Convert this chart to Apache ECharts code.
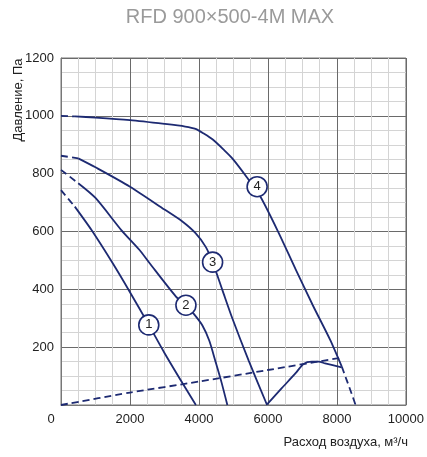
<!DOCTYPE html>
<html><head><meta charset="utf-8">
<script src="https://cdn.jsdelivr.net/npm/echarts@6/dist/echarts.min.js"></script>
<style>html,body{margin:0;padding:0;background:#fff}#c{width:427px;height:457px}</style>
</head><body><div id="c"></div>
<script>
const chartTitle = 'RFD 900×500-4M MAX';
const xName = 'Расход воздуха, м³/ч';
const yName = 'Давление, Па';
const xTicks = [0, 2000, 4000, 6000, 8000, 10000];
const yTicks = [0, 200, 400, 600, 800, 1000, 1200];

const curve1Dashed = [[0,743],[400,686]];
const curve1 = [[400,686],[885,605],[1500,490],[2000,390],[2545,277],[3000,180],[3525,75],[3910,0]];
const curve2Dashed = [[0,813],[500,767]];
const curve2 = [[500,767],[1000,716],[1748,605],[2277,536],[2565,491],[3333,375],[3622,345],[3850,315],[4100,275],[4300,222],[4480,150],[4650,80],[4823,0]];
const curve3Dashed = [[0,862],[500,853]];
const curve3 = [[500,853],[1000,822],[2000,755],[3000,676],[3500,636],[3900,594],[4200,546],[4395,494],[4677,398],[4966,300],[5447,152],[5974,0]];
const curve4Dashed = [[0,1000],[400,998]];
const curve4 = [[400,998],[1000,994],[2000,985],[3000,972],[3600,963],[3900,955],[4150,938],[4400,918],[4726,882],[4966,853],[5398,786],[5783,720],[6300,598],[6800,470],[7300,345],[7800,226],[8140,133]];
const curve4DashedEnd = [[8140,133],[8280,87],[8424,40],[8540,0]];
const stallCurve = [[5974,2],[6400,58],[6801,110],[7032,142],[7272,150],[7464,150],[7656,144],[8135,130]];
const systemCurve = [[0,0],[2000,43],[4000,81],[6000,121],[8000,161],[8100,163]];
const curveLabels = [[2545,277,'1'],[3622,345,'2'],[4395,494,'3'],[5686,755,'4']];

const NAVY = '#1d2a72';
function line(data, dashed){
  return {type:'line', data, showSymbol:false, smooth:0.25, silent:true,
    lineStyle:{color:NAVY, width:1.8, type: dashed ? [7,4] : 'solid'}, z:3};
}
const chart = echarts.init(document.getElementById('c'), null, {renderer:'canvas'});
chart.setOption({
  animation:false,
  backgroundColor:'#fff',
  grid:{left:61, right:19, top:58, bottom:52, show:true, borderColor:'#777', borderWidth:1},
  xAxis:{type:'value', min:xTicks[0], max:xTicks[xTicks.length-1], interval:2000,
    axisLine:{show:true, lineStyle:{color:'#777'}}, axisTick:{show:false},
    axisLabel:{fontSize:13, color:'#222', fontFamily:'Liberation Sans', margin:8,
      formatter:v => v===0 ? '{z|0}' : String(v),
      rich:{z:{fontSize:13, color:'#222', fontFamily:'Liberation Sans', padding:[0,20,0,0]}}},
    splitLine:{show:true, lineStyle:{color:'#6a6a6a', width:1}},
    minorTick:{show:false, splitNumber:4},
    minorSplitLine:{show:true, lineStyle:{color:'#d4d4d4', width:1}}},
  yAxis:{type:'value', min:yTicks[0], max:yTicks[yTicks.length-1], interval:200,
    axisLine:{show:true, lineStyle:{color:'#777'}}, axisTick:{show:false},
    axisLabel:{fontSize:13, color:'#222', fontFamily:'Liberation Sans', margin:7,
      formatter:v => v===0 ? '' : String(v)},
    splitLine:{show:true, lineStyle:{color:'#6a6a6a', width:1}},
    minorTick:{show:false, splitNumber:4},
    minorSplitLine:{show:true, lineStyle:{color:'#d4d4d4', width:1}}},
  graphic:[
    {type:'text', x:230, y:17, style:{text:chartTitle, fill:'#9a9a9a', font:'20px "Liberation Sans"', align:'center', verticalAlign:'middle', textAlign:'center', textVerticalAlign:'middle'}},
    {type:'text', x:408, y:442, style:{text:xName, fill:'#222', font:'13px "Liberation Sans"', align:'right', verticalAlign:'middle', textAlign:'right', textVerticalAlign:'middle'}},
    {type:'text', x:18, y:100, rotation:Math.PI/2, style:{text:yName, fill:'#222', font:'13px "Liberation Sans"', align:'center', verticalAlign:'middle', textAlign:'center', textVerticalAlign:'middle'}}
  ],
  series:[
    line(systemCurve, true),
    line(curve1Dashed, true), line(curve1, false),
    line(curve2Dashed, true), line(curve2, false),
    line(curve3Dashed, true), line(curve3, false),
    line(curve4Dashed, true), line(curve4, false), line(curve4DashedEnd, true),
    line(stallCurve, false),
    {type:'scatter', data:curveLabels.map(d=>({value:[d[0],d[1]], name:d[2]})), symbol:'circle', symbolSize:20, z:5, silent:true,
      itemStyle:{color:'#fff', borderColor:NAVY, borderWidth:1.6, opacity:1},
      label:{show:true, position:'inside', formatter:p=>p.name, color:'#222', fontSize:13, fontFamily:'Liberation Sans'}}
  ]
});
</script></body></html>
